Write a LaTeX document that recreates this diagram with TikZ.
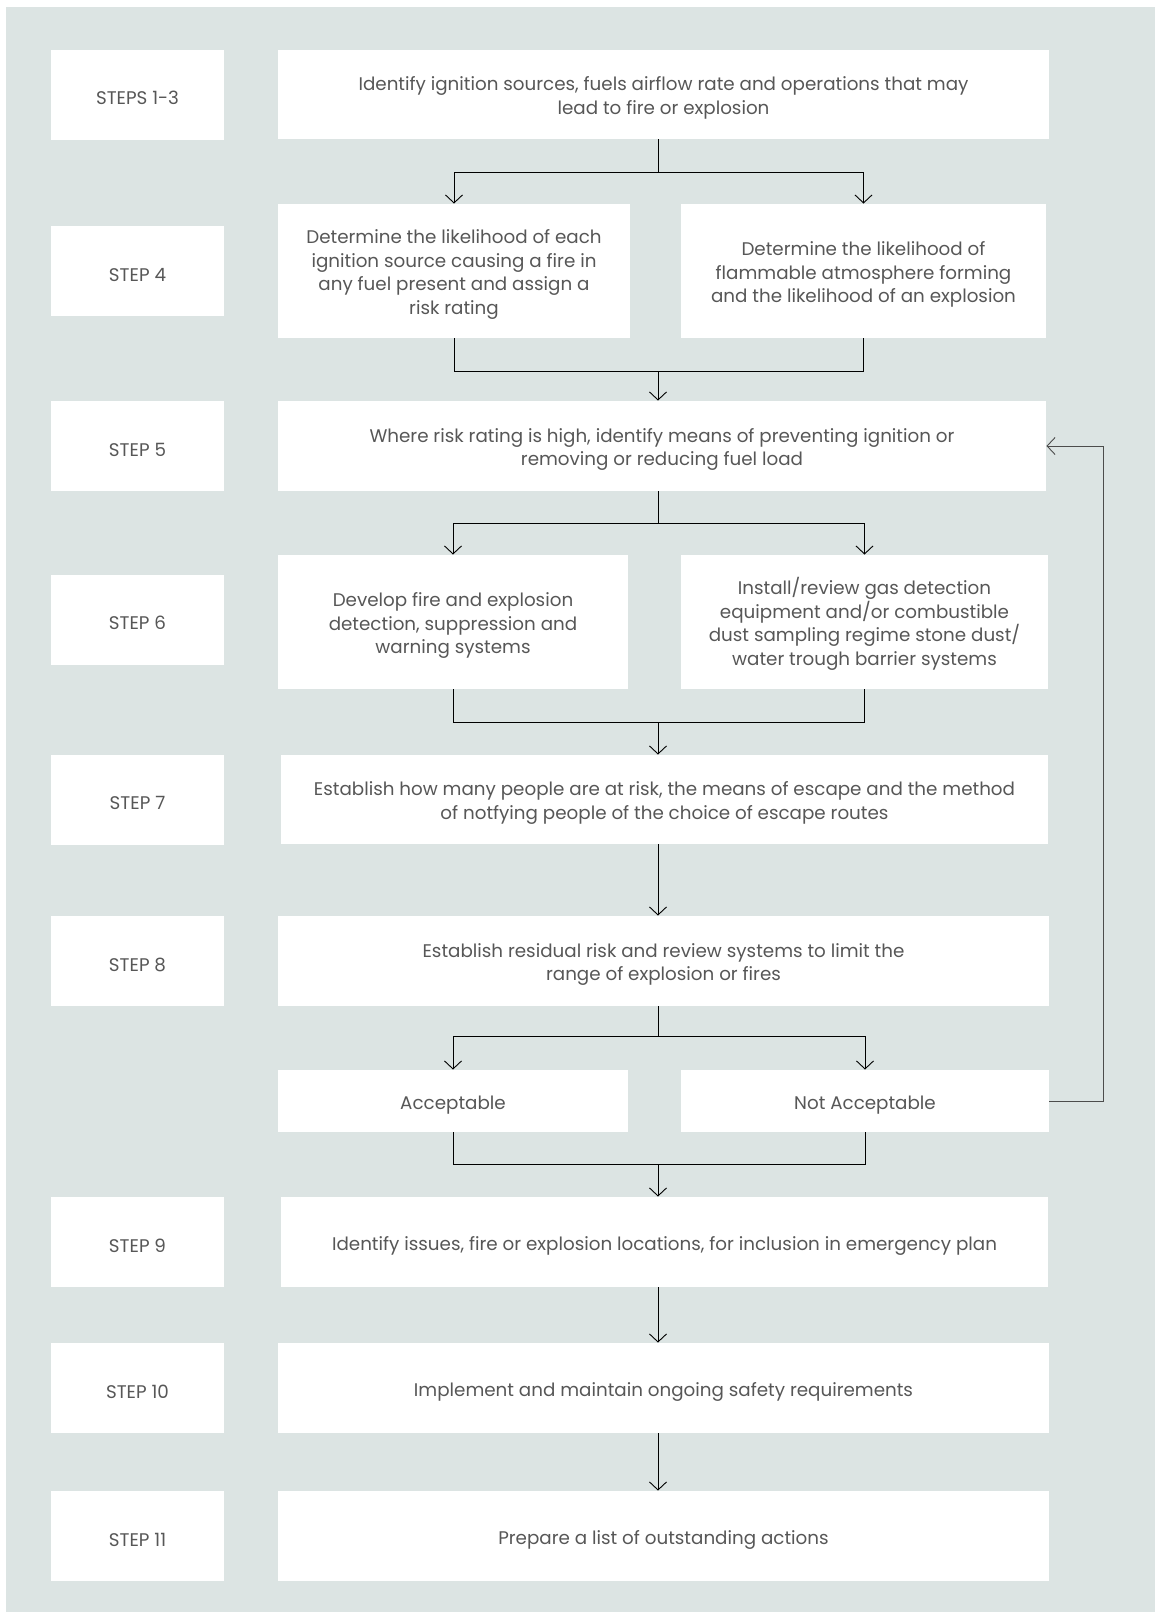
\documentclass[tikz,border=0pt]{standalone}
\usepackage{fontspec}
\setmainfont{Poppins}
\usetikzlibrary{arrows.meta}
\definecolor{bggrey}{HTML}{DCE4E3}
\definecolor{txtgrey}{HTML}{575757}
\newcommand{\topgap}{\rule{0pt}{21pt}}
\tikzset{
  stepbox/.style={fill=white, text=txtgrey, align=center, inner sep=0pt,
    font=\fontsize{18.3}{23.7}\selectfont,
    execute at begin node={\topgap}},
  lbl/.style={stepbox, minimum width=173pt, minimum height=90pt},
  arr/.style={-{Straight Barb[length=8pt,width=17pt]}},
}

\begin{document}
\begin{tikzpicture}[x=1pt, y=-1pt, line width=0.9pt]
% page 1160 x 1612, one unit = one pixel
\useasboundingbox (0,0) rectangle (1160,1612);
\fill[bggrey] (6,7) rectangle (1155,1612);

% step labels
\node[lbl] (s13) at (137.5,94.5) {STEPS 1-3};
\node[lbl] (s4) at (137.5,271) {STEP 4};
\node[lbl] (s5) at (137.5,446) {STEP 5};
\node[lbl] (s6) at (137.5,619.5) {STEP 6};
\node[lbl] (s7) at (137.5,799.5) {STEP 7};
\node[lbl] (s8) at (137.5,961) {STEP 8};
\node[lbl] (s9) at (137.5,1242) {STEP 9};
\node[lbl] (s10) at (137.5,1388) {STEP 10};
\node[lbl] (s11) at (137.5,1536) {STEP 11};

% boxes
\node[stepbox, minimum width=771pt, minimum height=89pt] (b13) at (663.5,94.5)
  {\topgap Identify ignition sources, fuels airflow rate and operations that may\\lead to fire or explosion};
\node[stepbox, minimum width=352pt, minimum height=134pt] (b4a) at (454,271)
  {\topgap Determine the likelihood of each\\ignition source causing a fire in\\any fuel present and assign a\\risk rating};
\node[stepbox, minimum width=365pt, minimum height=134pt] (b4b) at (863.5,271)
  {\topgap Determine the likelihood of\\flammable atmosphere forming\\and the likelihood of an explosion};
\node[stepbox, minimum width=768pt, minimum height=90pt] (b5) at (662,446)
  {\topgap Where risk rating is high, identify means of preventing ignition or\\removing or reducing fuel load};
\node[stepbox, minimum width=350pt, minimum height=134pt] (b6a) at (453,622)
  {\topgap Develop fire and explosion\\detection, suppression and\\warning systems};
\node[stepbox, minimum width=367pt, minimum height=134pt] (b6b) at (864.5,622)
  {\topgap Install/review gas detection\\equipment and/or combustible\\dust sampling regime stone dust/\\water trough barrier systems};
\node[stepbox, minimum width=767pt, minimum height=89pt] (b7) at (664.5,799.5)
  {\topgap Establish how many people are at risk, the means of escape and the method\\of notfying people of the choice of escape routes};
\node[stepbox, minimum width=771pt, minimum height=90pt] (b8) at (663.5,961)
  {\topgap Establish residual risk and review systems to limit the\\range of explosion or fires};
\node[stepbox, minimum width=350pt, minimum height=62pt] (acc) at (453,1101) {Acceptable};
\node[stepbox, minimum width=368pt, minimum height=62pt] (nacc) at (865,1101) {Not Acceptable};
\node[stepbox, minimum width=767pt, minimum height=90pt] (b9) at (664.5,1242)
  {Identify issues, fire or explosion locations, for inclusion in emergency plan};
\node[stepbox, minimum width=771pt, minimum height=90pt] (b10) at (663.5,1388)
  {Implement and maintain ongoing safety requirements};
\node[stepbox, minimum width=771pt, minimum height=90pt] (b11) at (663.5,1536)
  {Prepare a list of outstanding actions};

% junctions on the trunk
\coordinate (tr) at (658,0);
\coordinate (j1) at (658,172);
\coordinate (m1) at (658,371);
\coordinate (j2) at (658,523);
\coordinate (m2) at (658,722);
\coordinate (j3) at (658,1036);
\coordinate (m3) at (658,1164);
\coordinate (fb) at (1103,0);

\draw (b13.south -| j1) -- (j1);
\draw[arr] (j1) -| (b4a.north);
\draw[arr] (j1) -| (b4b.north);
\draw (b4a.south) |- (m1);
\draw (b4b.south) |- (m1);
\draw[arr] (m1) -- (m1 |- b5.north);

\draw (b5.south -| j2) -- (j2);
\draw[arr] (j2) -| (b6a.north);
\draw[arr] (j2) -| (b6b.north);
\draw (b6a.south) |- (m2);
\draw (b6b.south) |- (m2);
\draw[arr] (m2) -- (m2 |- b7.north);

\draw[arr] (b7.south -| tr) -- (b8.north -| tr);

\draw (b8.south -| j3) -- (j3);
\draw[arr] (j3) -| (acc.north);
\draw[arr] (j3) -| (nacc.north);
\draw (acc.south) |- (m3);
\draw (nacc.south) |- (m3);
\draw[arr] (m3) -- (m3 |- b9.north);
\draw[arr, black!70] (nacc.east) -- (nacc.east -| fb) |- (b5.east);

\draw[arr] (b9.south -| tr) -- (b10.north -| tr);
\draw[arr] (b10.south -| tr) -- (b11.north -| tr);
\end{tikzpicture}
\end{document}
